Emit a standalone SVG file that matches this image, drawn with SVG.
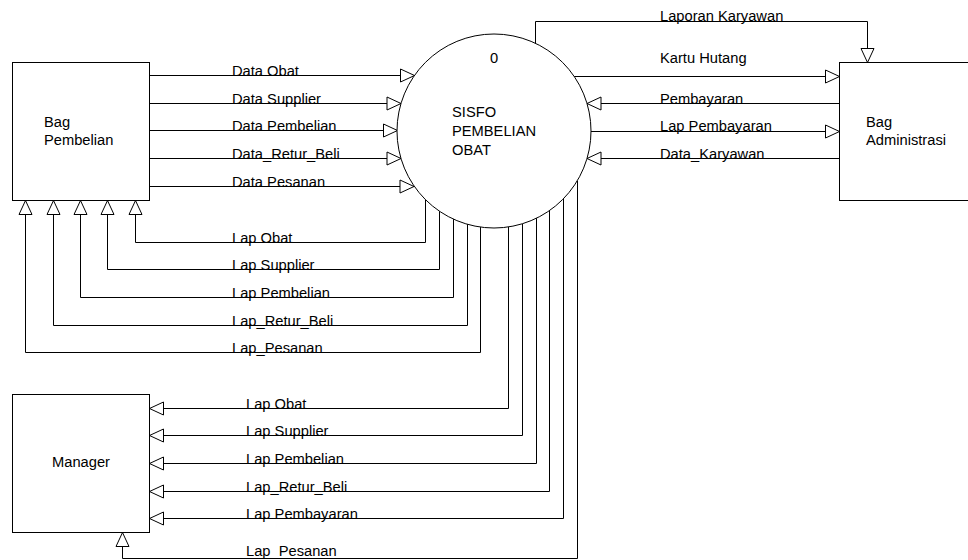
<svg xmlns="http://www.w3.org/2000/svg" width="968" height="560" viewBox="0 0 968 560">
  <style>
    .box { fill: #fff; stroke: #000; stroke-width: 1; }
    .flow { fill: none; stroke: #000; stroke-width: 1; marker-end: url(#arr); }
    text { font-family: "Liberation Sans", Arial, sans-serif; font-size: 14.7px; fill: #000; }
  </style>
  <defs>
    <marker id="arr" viewBox="0 0 14 13" refX="14" refY="6.5" markerWidth="14" markerHeight="13" orient="auto" markerUnits="userSpaceOnUse" overflow="visible">
      <path d="M0,0 L14,6.5 L0,13 Z" fill="#fff" stroke="#000" stroke-width="1"/>
    </marker>
  </defs>
  <rect width="968" height="560" fill="#fff"/>

  <!-- data flows -->
  <g id="connectors">
    <!-- Bag Pembelian to process -->
    <path class="flow" d="M149.5,75.5 H414.5"/>
    <path class="flow" d="M149.5,103.5 H401"/>
    <path class="flow" d="M149.5,130.5 H397.5"/>
    <path class="flow" d="M149.5,158.5 H401"/>
    <path class="flow" d="M149.5,186.5 H414"/>
    <text x="232" y="76">Data Obat</text>
    <text x="232" y="104">Data Supplier</text>
    <text x="232" y="131">Data Pembelian</text>
    <text x="232" y="159">Data_Retur_Beli</text>
    <text x="232" y="187">Data Pesanan</text>

    <!-- process to Bag Pembelian -->
    <path class="flow" d="M425.5,199 V242.5 H135.5 V200.5"/>
    <path class="flow" d="M439.5,211 V269.5 H107.5 V200.5"/>
    <path class="flow" d="M453.5,218 V297.5 H80.5 V200.5"/>
    <path class="flow" d="M467.5,224 V325.5 H53.5 V200.5"/>
    <path class="flow" d="M480.5,227 V352.5 H25.5 V200.5"/>
    <text x="232" y="243">Lap Obat</text>
    <text x="232" y="270">Lap Supplier</text>
    <text x="232" y="298">Lap Pembelian</text>
    <text x="232" y="326">Lap_Retur_Beli</text>
    <text x="232" y="353">Lap_Pesanan</text>

    <!-- process to Manager -->
    <path class="flow" d="M508.5,227 V408.5 H149.5"/>
    <path class="flow" d="M522.5,224 V435.5 H149.5"/>
    <path class="flow" d="M536.5,218 V463.5 H149.5"/>
    <path class="flow" d="M549.5,211 V491.5 H149.5"/>
    <path class="flow" d="M563.5,199 V518.5 H149.5"/>
    <path class="flow" d="M577.5,181 V558.5 H122.5 V532.5"/>
    <text x="246" y="409">Lap Obat</text>
    <text x="246" y="436">Lap Supplier</text>
    <text x="246" y="464">Lap Pembelian</text>
    <text x="246" y="492">Lap_Retur_Beli</text>
    <text x="246" y="519">Lap Pembayaran</text>
    <text x="246" y="556">Lap_Pesanan</text>

    <!-- process and Bag Administrasi -->
    <path class="flow" d="M535.5,43 V21.5 H867.5 V62.5"/>
    <path class="flow" d="M574,76.5 H839.5"/>
    <path class="flow" d="M839.5,103.5 H587"/>
    <path class="flow" d="M591,131.5 H839.5"/>
    <path class="flow" d="M839.5,158.5 H587"/>
    <text x="660" y="21">Laporan Karyawan</text>
    <text x="660" y="63">Kartu Hutang</text>
    <text x="660" y="104">Pembayaran</text>
    <text x="660" y="131">Lap Pembayaran</text>
    <text x="660" y="159">Data_Karyawan</text>
  </g>

  <g id="bag-pembelian">
    <rect class="box" x="12.5" y="62.5" width="137" height="138"/>
    <text x="44" y="127">Bag</text>
    <text x="44" y="145">Pembelian</text>
  </g>

  <g id="proses-0">
    <circle class="box" cx="494" cy="131" r="97"/>
    <text x="494" y="63" text-anchor="middle">0</text>
    <text x="452" y="117">SISFO</text>
    <text x="452" y="136">PEMBELIAN</text>
    <text x="452" y="155">OBAT</text>
  </g>

  <g id="bag-administrasi">
    <rect class="box" x="839.5" y="62.5" width="140" height="138"/>
    <text x="866" y="127">Bag</text>
    <text x="866" y="145">Administrasi</text>
  </g>

  <g id="manager">
    <rect class="box" x="12.5" y="394.5" width="137" height="138"/>
    <text x="52" y="467">Manager</text>
  </g>
</svg>
